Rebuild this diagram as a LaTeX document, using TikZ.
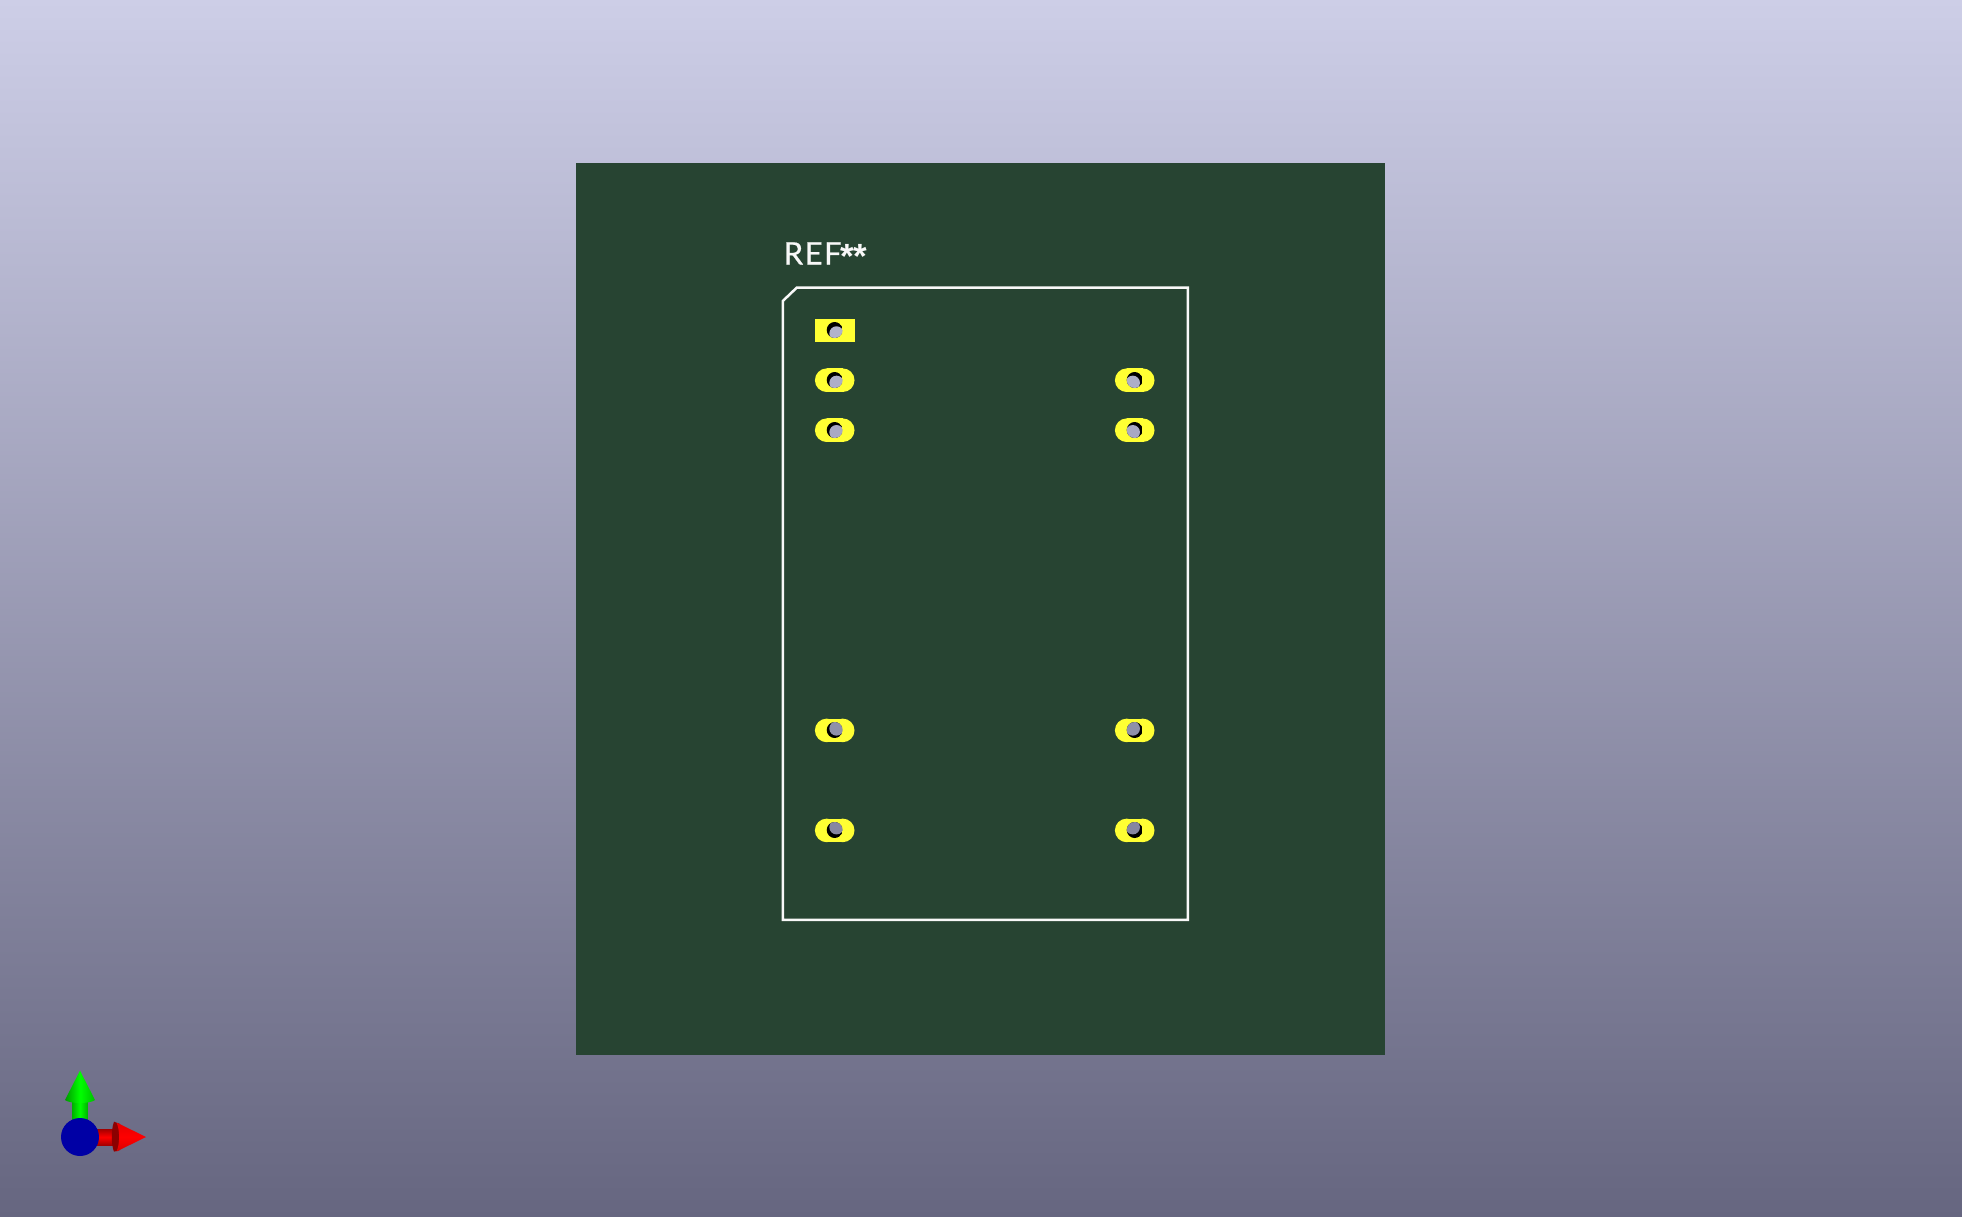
\documentclass[tikz,border=0pt]{standalone}
\usepackage{fontspec}
\setmainfont{Lato}
\newfontfamily\starfont{Liberation Sans}[BoldFont={* Bold}]
\definecolor{bgtop}{RGB}{205,206,231}
\definecolor{bgbot}{RGB}{102,102,128}
\definecolor{board}{RGB}{39,68,50}
\definecolor{padyellow}{RGB}{255,255,51}
\definecolor{silk}{RGB}{248,248,248}
\definecolor{axisblue}{RGB}{0,0,165}
\tikzset{
  silkline/.style={draw=silk,line width=2.5pt,line join=miter},
}
\begin{document}
\begin{tikzpicture}[x=1pt,y=-1pt]
\useasboundingbox (0,0) rectangle (1962,1217);
\shade[top color=bgtop,bottom color=bgbot,shading angle=0] (0,0) rectangle (1962,1217);
% board
\fill[board] (576,163) rectangle (1385.3,1054.6);
% outline
\draw[silkline] (796.7,287.7) -- (1187.8,287.7) -- (1187.8,919.8) -- (782.8,919.8) -- (782.8,301) -- cycle;
% reference text
\node[anchor=base west,inner sep=0pt,text=silk,font=\fontsize{31}{31}\selectfont] (ref) at (783.5,264.5) {\addfontfeatures{LetterSpace=5,FakeBold=0.6}REF\kern-1.5pt\raisebox{-4.5pt}{\starfont\bfseries\fontsize{35}{35}\selectfont *\kern-0.5pt*}};
% pad 1
\fill[padyellow] (815,318.5) rectangle (854.5,341.8);
% oval pads
\foreach \px in {834.7,1134.7}{
  \foreach \py in {380.2,430.2,730.4,830.4}{
    \fill[padyellow] (\px-8,\py-11.8) rectangle (\px+8,\py+11.8);
    \fill[padyellow] (\px-8,\py) circle (11.8);
    \fill[padyellow] (\px+8,\py) circle (11.8);
  }
}
% holes
\foreach \px/\py in {834.7/330,834.7/380,834.7/430,834.7/730,834.7/830,1134.7/380,1134.7/430,1134.7/730,1134.7/830}{
  \pgfmathsetmacro{\mixv}{100*(1-\py/1217)}
  \pgfmathsetmacro{\ox}{(980-\px)*0.0125}
  \pgfmathsetmacro{\oy}{(608-\py)*0.0125}
  \colorlet{holebg}{bgtop!\mixv!bgbot}
  \begin{scope}
    \clip (\px,\py) circle (8);
    \fill[black] (\px,\py) circle (8);
    \fill[holebg] (\px+\ox,\py+\oy) circle (7.2);
  \end{scope}
}
% axes: green
\shade[left color=green!70!black,right color=green!70!black,middle color=green] (72.3,1100) rectangle (87.7,1125);
\shade[left color=green!60!black,right color=green!75!black,middle color=green] (80,1070.7) -- (95,1100) .. controls (90,1104) and (70,1104) .. (65,1100) -- cycle;
% axes: red
\shade[top color=red!65!black,bottom color=red!65!black,middle color=red] (95,1129.3) rectangle (118,1145);
\fill[red!55!black] (114,1121.7) .. controls (111,1130) and (111,1144) .. (114,1151.7) -- (120,1150) -- (120,1124) -- cycle;
\shade[top color=red!90!black,bottom color=red!85!black,middle color=red] (146,1137) -- (116.5,1122.5) .. controls (120,1130) and (120,1144) .. (116.5,1151.5) -- cycle;
% axes: blue
\fill[axisblue] (80,1137) circle (19);
\end{tikzpicture}
\end{document}
